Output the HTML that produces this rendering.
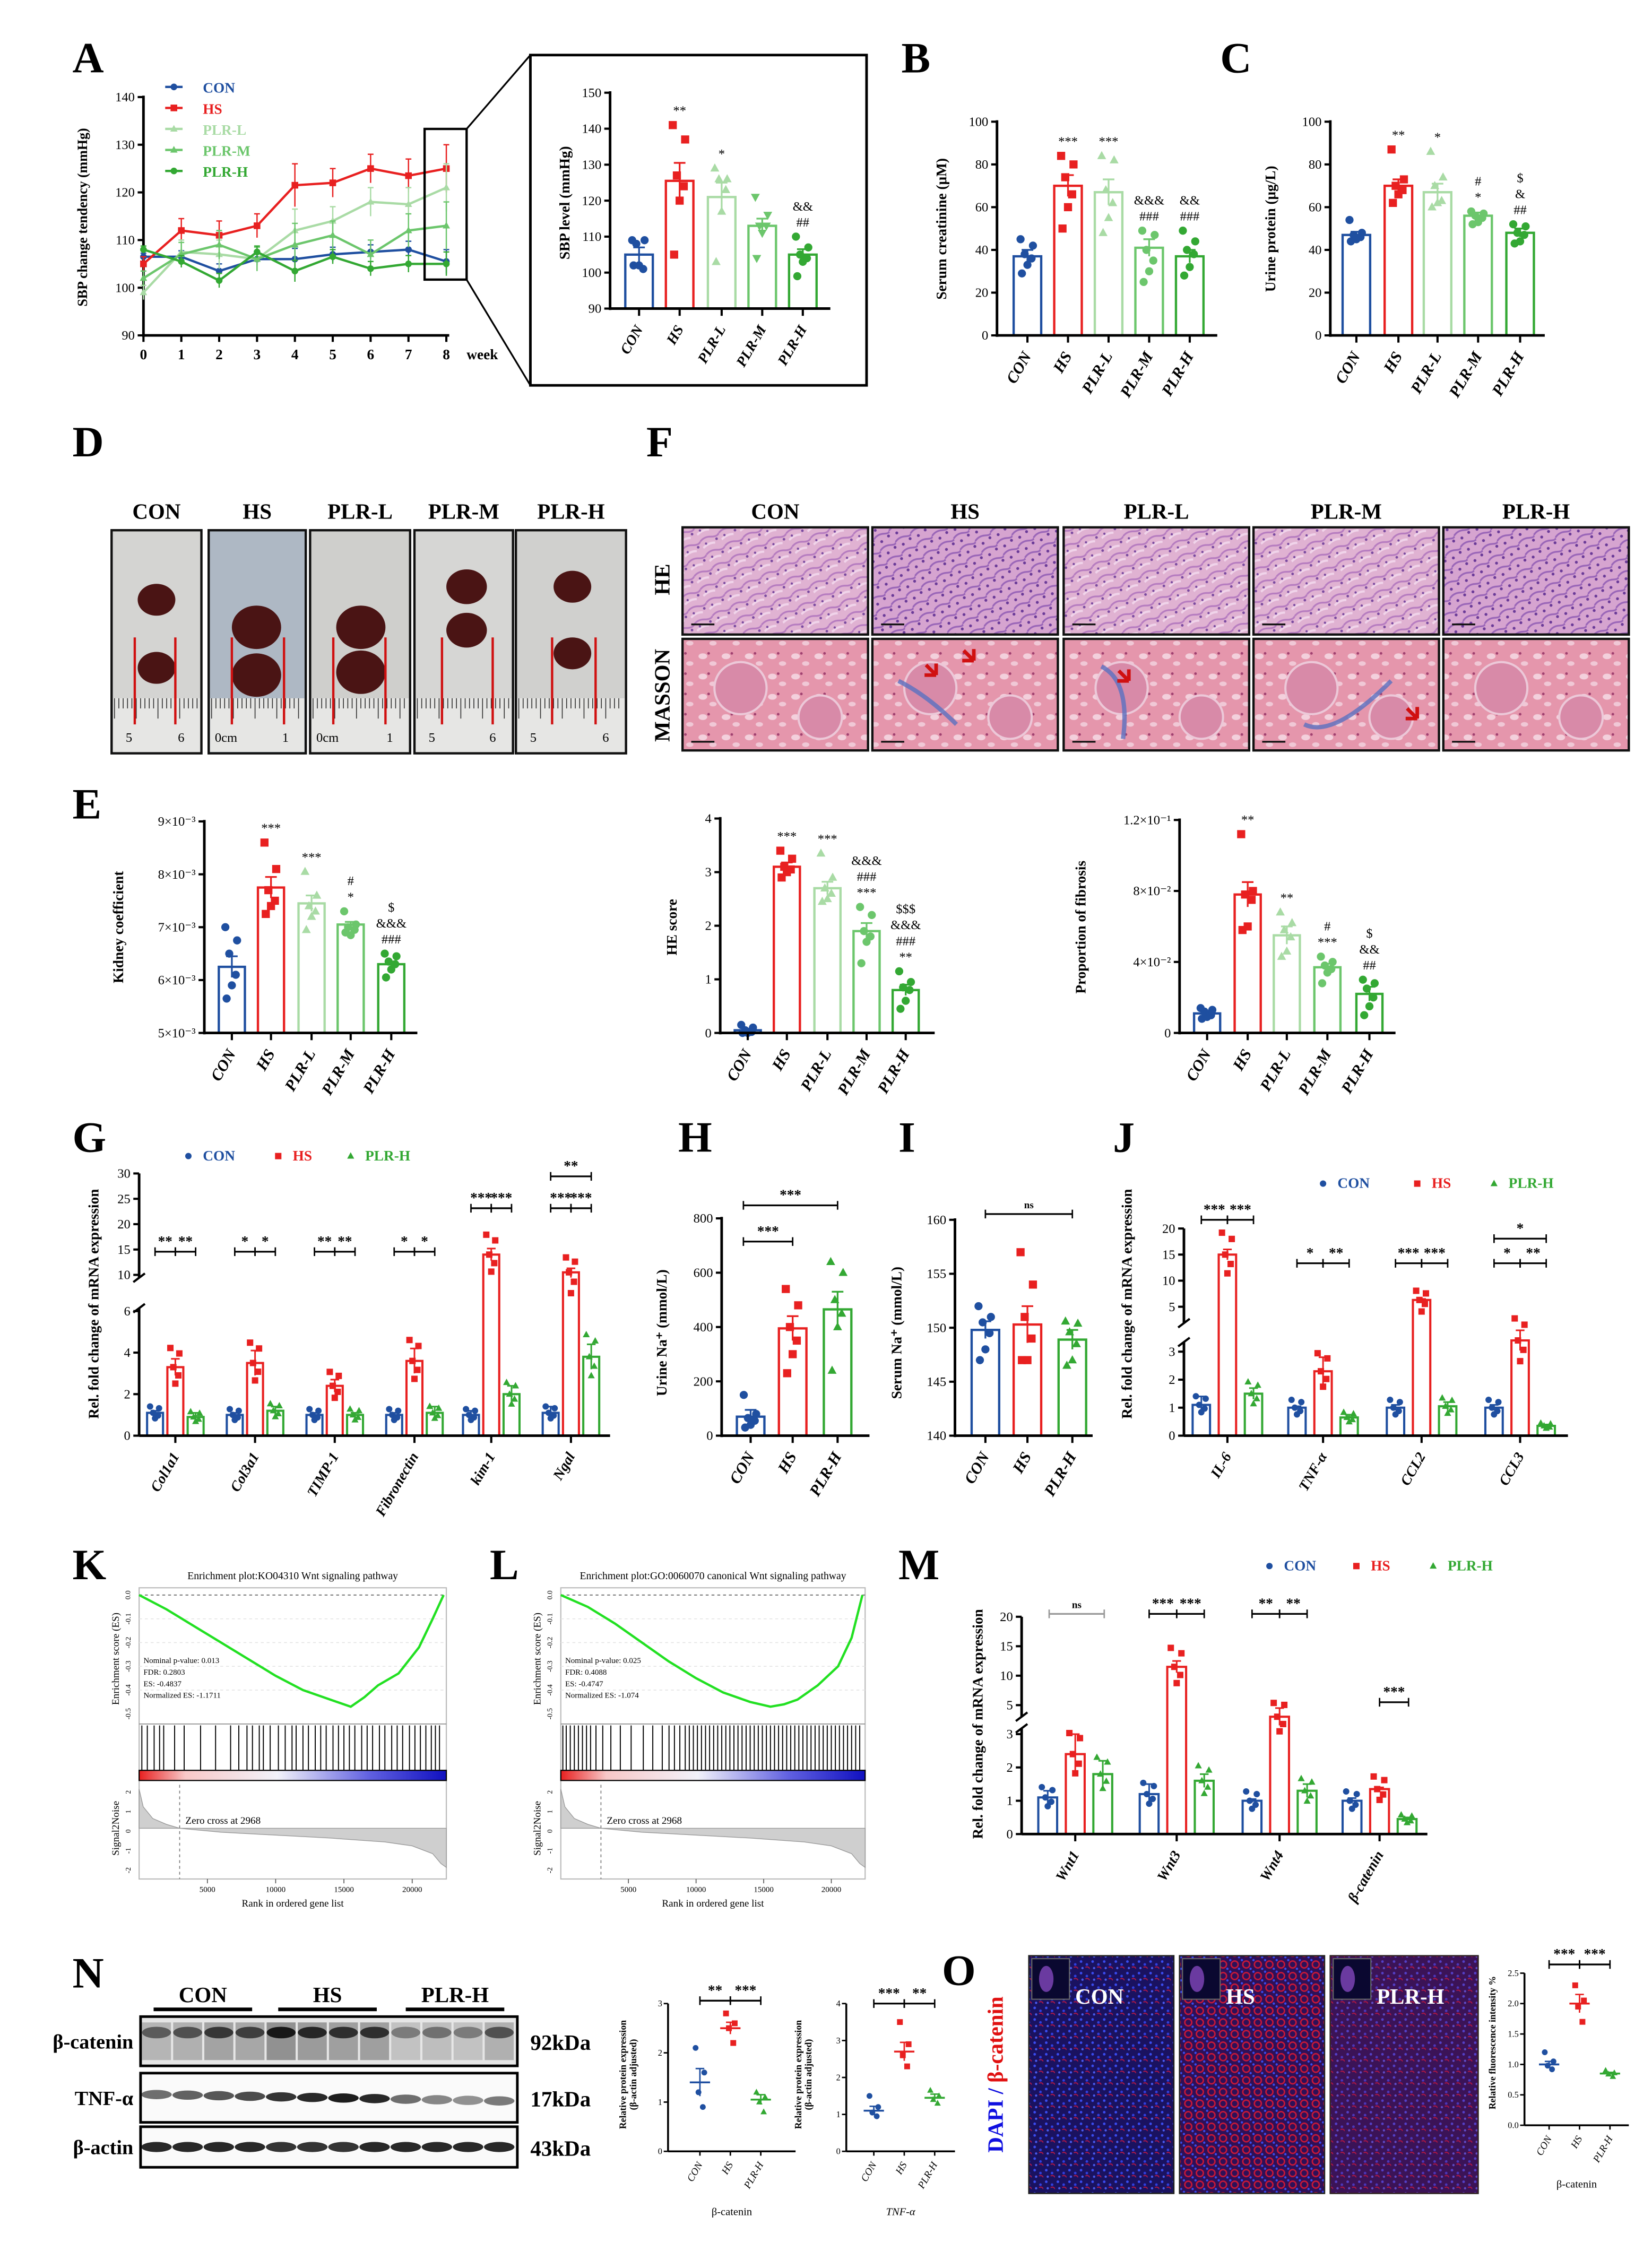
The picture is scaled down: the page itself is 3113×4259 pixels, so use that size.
<!DOCTYPE html>
<html><head><meta charset="utf-8"><style>
html,body{margin:0;padding:0;background:#fff;}
svg{display:block;}
text{font-family:"Liberation Serif",serif;}
</style></head><body>
<svg id="fig" xmlns="http://www.w3.org/2000/svg" width="3113" height="4259" viewBox="0 0 1140 1560" preserveAspectRatio="none">
<defs>
<pattern id="heP" width="14" height="10" patternUnits="userSpaceOnUse" patternTransform="rotate(-25)">
<rect width="14" height="10" fill="#e0b2d2"/>
<path d="M0 3 Q4 1 8 3 T14 3" stroke="#b67cc0" stroke-width="1.2" fill="none"/>
<path d="M0 8 Q5 6 9 8" stroke="#f0d4ea" stroke-width="1.5" fill="none"/>
<circle cx="11" cy="6" r="0.9" fill="#7a4aa0"/><circle cx="3" cy="6" r="0.8" fill="#7a4aa0"/>
</pattern>
<pattern id="heP2" width="12" height="9" patternUnits="userSpaceOnUse" patternTransform="rotate(-30)">
<rect width="12" height="9" fill="#d6a4d0"/>
<path d="M0 3 Q4 1 8 3 T12 3" stroke="#9a66b8" stroke-width="1.2" fill="none"/>
<circle cx="10" cy="6" r="1" fill="#6a3a98"/><circle cx="4" cy="7" r="1" fill="#6a3a98"/>
</pattern>
<pattern id="msP" width="16" height="14" patternUnits="userSpaceOnUse">
<rect width="16" height="14" fill="#e596ac"/>
<ellipse cx="5" cy="5" rx="3" ry="2" fill="#f3d0dc"/>
<ellipse cx="12" cy="10" rx="2.5" ry="1.6" fill="#f0c8d6"/>
<circle cx="9" cy="3" r="0.9" fill="#a04070"/>
</pattern>
<pattern id="ifB" width="8" height="8" patternUnits="userSpaceOnUse">
<rect width="8" height="8" fill="#1a1260"/>
<circle cx="2" cy="2" r="0.9" fill="#3a4cf0"/><circle cx="6" cy="4" r="0.9" fill="#3040e0"/><circle cx="3" cy="6.5" r="0.8" fill="#4a5cf0"/>
<path d="M5 6 q2 -1 3 1" fill="none" stroke="#b01848" stroke-width="0.7"/>
</pattern>
<pattern id="ifR" width="8" height="8" patternUnits="userSpaceOnUse">
<rect width="8" height="8" fill="#2e1058"/>
<circle cx="4" cy="4" r="2.4" fill="none" stroke="#c81838" stroke-width="1"/>
<circle cx="1" cy="1" r="0.8" fill="#3a4cf0"/><circle cx="7" cy="7" r="0.8" fill="#3a4cf0"/>
</pattern>
<linearGradient id="rankG" x1="0" x2="1" y1="0" y2="0">
<stop offset="0" stop-color="#e82020"/><stop offset="0.15" stop-color="#f8c8c8"/><stop offset="0.45" stop-color="#f2f2fa"/><stop offset="0.75" stop-color="#6060e0"/><stop offset="1" stop-color="#1010c0"/>
</linearGradient>
</defs>
</svg>
<script>
// ====== DATA ======
const groups5 = ['CON','HS','PLR-L','PLR-M','PLR-H'];
const groups3 = ['CON','HS','PLR-H'];
// A line chart
const weeks = [0,1,2,3,4,5,6,7,8];
const sbpCON = [106.5,106.5,103.5,106,106,107,107.5,108,105.5];
const sbpHS = [105,112,111,113,121.5,122,125,123.5,125];
const sbpPLRL = [99,107.5,107,106,112,114,118,117.5,121];
const sbpPLRM = [102,107,109,106,109,111,107,112,113];
const sbpPLRH = [108,105.5,101.5,107.5,103.5,106.5,104,105,105];
const sbpErr = [1.5,2.5,3,2.5,4.5,3,3,3.5,5];
// A inset
const sbpMeans = [105,125.5,121,113,105];
const sbpSem = [2,5,4,2,1.5];
const sbpPts = [[109,109,108,101,102,102],[141,137,127,124,120,105],[129,126,126,123,117,103],[121,116,113,113,111,104],[110,107,105,104,103,99]];
// B
const crMeans = [37,70,67,41,37];
const crSem = [3,5,6,4,3];
const crPts = [[45,42,38,36,33,29],[84,80,74,66,60,50],[84,82,68,62,55,48],[49,47,40,35,30,25],[49,44,40,38,32,28]];
// C
const upMeans = [47,70,67,56,48];
const upSem = [1.5,3,4,1.5,2];
const upPts = [[54,48,47,46,45,44],[87,73,70,68,66,62],[86,74,70,63,62,60],[58,57,56,55,53,52],[52,51,48,47,44,43]];
// E1 (x10^-3)
const kcMeans = [6.25,7.75,7.45,7.05,6.3];
const kcSem = [0.2,0.2,0.15,0.05,0.05];
const kcPts = [[7.0,6.75,6.5,6.1,5.9,5.65],[8.6,8.1,7.7,7.5,7.4,7.25],[8.05,7.6,7.4,7.3,7.2,6.95],[7.3,7.05,7.0,6.95,6.85,6.9],[6.5,6.45,6.35,6.3,6.2,6.05]];
// E2
const heMeans = [0.05,3.1,2.7,1.9,0.8];
const heSem = [0.03,0.08,0.12,0.15,0.1];
const hePts = [[0.15,0.1,0.05,0.02,0,0],[3.4,3.25,3.1,3.05,3.0,2.9],[3.35,2.9,2.7,2.6,2.5,2.45],[2.35,2.2,1.9,1.8,1.7,1.3],[1.15,0.95,0.85,0.8,0.6,0.45]];
// E3 (x10^-2)
const fbMeans = [1.1,7.8,5.5,3.7,2.2];
const fbSem = [0.1,0.7,0.5,0.2,0.4];
const fbPts = [[1.4,1.3,1.2,1.0,0.9,0.8],[11.2,8.0,7.8,7.5,6.0,5.8],[6.8,6.2,5.8,5.4,4.6,4.3],[4.3,4.0,3.8,3.6,3.4,2.8],[3.0,2.8,2.5,2.0,1.5,1.0]];
// G
const gGenes = ['Col1a1','Col3a1','TIMP-1','Fibronectin','kim-1','Ngal'];
const gCON = [1.1,1.0,1.0,1.0,1.0,1.1];
const gHS = [3.3,3.5,2.4,3.6,14,10.5];
const gPLR = [0.9,1.2,1.0,1.1,2.0,3.8];
const gSemCON = [0.1,0.1,0.1,0.1,0.2,0.3];
const gSemHS = [0.4,0.6,0.3,0.6,1.2,0.8];
const gSemPLR = [0.2,0.2,0.1,0.3,0.4,0.6];
// H, I
const uNaMeans = [70,395,465];
const uNaSem = [25,45,65];
const uNaPts = [[150,80,65,55,40,30],[540,480,400,350,300,230],[640,600,500,450,400,240]];
const sNaMeans = [149.8,150.3,148.9];
const sNaSem = [0.8,1.7,0.9];
const sNaPts = [[152,151,150.5,149.5,148,147],[157,154,151,149,147,147],[150.6,150.4,149.6,148.5,147,146.5]];
// J
const jGenes = ['IL-6','TNF-α','CCL2','CCL3'];
const jCON = [1.1,1.0,1.0,1.0];
const jHS = [15,2.3,6.3,3.5];
const jPLR = [1.5,0.65,1.05,0.35];
const jSemCON = [0.3,0.05,0.1,0.1];
const jSemHS = [1.0,0.5,0.2,0.45];
const jSemPLR = [0.2,0.1,0.15,0.05];
// M
const mGenes = ['Wnt1','Wnt3','Wnt4','β-catenin'];
const mCON = [1.1,1.2,1.0,1.0];
const mHS = [2.4,11.5,4.2,1.35];
const mPLR = [1.8,1.6,1.3,0.45];
const mSemCON = [0.2,0.3,0.05,0.08];
const mSemHS = [0.6,1.0,0.6,0.05];
const mSemPLR = [0.4,0.2,0.2,0.05];
// N, O scatter
const nBcPts = [[2.1,1.6,1.2,0.9],[2.8,2.6,2.5,2.2],[1.2,1.1,1.0,0.8]];
const nBcMean = [1.4,2.5,1.05];
const nBcSem = [0.28,0.12,0.1];
const nTnfPts = [[1.5,1.2,1.05,0.95],[3.5,2.9,2.6,2.3],[1.65,1.5,1.4,1.3]];
const nTnfMean = [1.1,2.7,1.45];
const nTnfSem = [0.12,0.25,0.1];
const oPts = [[1.2,1.05,0.98,0.92],[2.3,2.05,1.95,1.7],[0.9,0.86,0.84,0.8]];
const oMean = [1.0,2.0,0.85];
const oSem = [0.05,0.15,0.02];
// GSEA
const esRanks = [0,2000,4000,6000,8000,10000,12000,14000,15500,16500,17500,19000,20500,21500,22300];
const esK = [0,-0.06,-0.13,-0.2,-0.27,-0.34,-0.4,-0.44,-0.47,-0.43,-0.38,-0.33,-0.22,-0.1,0];
const esL = [0,-0.05,-0.12,-0.2,-0.28,-0.35,-0.41,-0.45,-0.47,-0.46,-0.44,-0.38,-0.3,-0.18,0];
const hitsK = [200,600,1100,1500,1800,2600,3300,4500,5600,6700,7300,7900,8300,8800,9100,9600,10200,10700,11200,11500,12000,12400,12900,13300,13700,14200,14600,15000,15400,15800,16300,16700,17100,17600,18000,18500,18900,19300,19800,20200,20600,21000,21400,21700,22000];
const hitsL = [150,400,700,1000,1300,1600,1900,2200,2600,3100,3700,4400,5200,6100,6800,7500,8000,8400,8800,9200,9500,9800,10100,10400,10700,11000,11300,11600,11900,12200,12500,12800,13100,13400,13700,14000,14300,14600,14900,15200,15500,15800,16100,16400,16700,17000,17300,17600,17900,18200,18500,18800,19100,19400,19700,20000,20300,20600,20900,21200,21500,21800,22100];
const metricRanks = [0,300,1000,2000,2968,6000,10000,14000,18000,20000,21500,22100,22500];
const metricVals = [2,1.1,0.5,0.2,0,-0.2,-0.35,-0.5,-0.7,-0.9,-1.3,-1.8,-2];

// ====== HELPERS ======
const NS='http://www.w3.org/2000/svg';
const svg=document.getElementById('fig');
const C={CON:'#1f4fa0',HS:'#e82020','PLR-L':'#a9dba5','PLR-M':'#6cc66c','PLR-H':'#33a833'};
function mk(tag,attrs,name,parent){
  const e=document.createElementNS(NS,tag);
  for(const k in attrs) e.setAttribute(k,attrs[k]);
  
  
  (parent||svg).appendChild(e);return e;
}
function T(x,y,s,o,name){
  o=o||{};
  const a={x:x,y:y,'font-size':o.fs||9,fill:o.fill||'#000','text-anchor':o.anchor||'middle'};
  if(o.bold)a['font-weight']='bold';
  if(o.italic)a['font-style']='italic';
  if(o.rot!==undefined)a.transform='rotate('+o.rot+' '+x+' '+y+')';
  if(o.family)a['font-family']=o.family;
  const e=mk('text',a,name||'label');e.textContent=s;return e;
}
function L(x1,y1,x2,y2,st,w,name,dash){const a={x1:x1,y1:y1,x2:x2,y2:y2,stroke:st||'#000','stroke-width':w||1};if(dash)a['stroke-dasharray']=dash;return mk('line',a,name||'line');}
function lin(d0,d1,r0,r1){return v=>r0+(v-d0)*(r1-r0)/(d1-d0);}
function pw(pairs){return v=>{for(let i=0;i<pairs.length-1;i++){const a=pairs[i],b=pairs[i+1];if(v<=b[0]||i==pairs.length-2)return a[1]+(v-a[0])*(b[1]-a[1])/(b[0]-a[0]);}};}
function marker(shape,x,y,r,col,name){
  if(shape==='s')return mk('rect',{x:x-r,y:y-r,width:2*r,height:2*r,fill:col},name);
  if(shape==='t')return mk('polygon',{points:(x)+','+(y-r*1.2)+' '+(x-r*1.1)+','+(y+r*0.8)+' '+(x+r*1.1)+','+(y+r*0.8),fill:col},name);
  if(shape==='v')return mk('polygon',{points:(x)+','+(y+r*1.2)+' '+(x-r*1.1)+','+(y-r*0.8)+' '+(x+r*1.1)+','+(y-r*0.8),fill:col},name);
  return mk('circle',{cx:x,cy:y,r:r,fill:col},name);
}
function letter(x,y,s){T(x,y,s,{fs:30,bold:true,anchor:'start'},'panel-letter-'+s);}
function yAxis(ax,y,ticks,labels,fs,name){
  L(ax,y(ticks[ticks.length-1])-1,ax,y(ticks[0])+1,'#000',1.8,name+'-y-axis');
  ticks.forEach((t,i)=>{L(ax-4,y(t),ax,y(t),'#000',1.5,name+'-y-tick');T(ax-6,y(t)+3,labels[i],{fs:fs||9,anchor:'end'},name+'-y-tick-label');});
}
const jit=[-5,4,-2,3,0,-4,5];
function barChart(cfg){
  const y=cfg.y,bw=cfg.bw,base=y(cfg.ticks[0]);
  cfg.means.forEach((m,i)=>{
    const x=cfg.xs[i],col=cfg.cols[i];
    mk('rect',{x:x-bw/2,y:y(m),width:bw,height:base-y(m),fill:'none',stroke:col,'stroke-width':1.6},cfg.name+'-bar-'+cfg.cats[i]);
    let top=y(m+cfg.sems[i]);
    (cfg.pts[i]||[]).forEach((p,j)=>{const py=y(p);top=Math.min(top,py);marker(cfg.shapes[i],x+jit[j%7]*bw/20,py,cfg.mr||2.8,col,cfg.name+'-point');});
    L(x,y(m-cfg.sems[i]),x,y(m+cfg.sems[i]),col,1.2,cfg.name+'-error-bar');
    L(x-4,y(m+cfg.sems[i]),x+4,y(m+cfg.sems[i]),col,1.2,cfg.name+'-error-cap');
    if(cfg.stars&&cfg.stars[i]){cfg.stars[i].split('|').forEach((s,k)=>{T(x,top-7-k*11,s,{fs:9},cfg.name+'-significance');});}
    L(x,base,x,base+5,'#000',1.5,cfg.name+'-x-tick');
    T(x+3,base+14,cfg.cats[i],{fs:cfg.cfs||11,bold:true,italic:true,anchor:'end',rot:-60},cfg.name+'-x-label');
  });
  L(cfg.ax,base,cfg.xe,base,'#000',1.8,cfg.name+'-x-axis');
  yAxis(cfg.ax,y,cfg.ticks,cfg.tickLabels,cfg.tfs,cfg.name);
  T(cfg.ylx,cfg.yly,cfg.ylabel,{fs:cfg.ylfs||10,bold:true,rot:-90},cfg.name+'-y-axis-title');
}
function groupedBars(cfg){
  const y=cfg.y,base=y(0),bw=cfg.bw,sets=[cfg.con,cfg.hs,cfg.plr],sems=[cfg.sc,cfg.sh,cfg.sp],cols=[C.CON,C.HS,C['PLR-H']],shapes=['c','s','t'];
  cfg.genes.forEach((g,gi)=>{
    for(let k=0;k<3;k++){
      const x=cfg.cx[gi]+(k-1)*cfg.sp3,m=sets[k][gi],s=sems[k][gi];
      mk('rect',{x:x-bw/2,y:y(m),width:bw,height:base-y(m),fill:'none',stroke:cols[k],'stroke-width':1.5},cfg.name+'-bar-'+g);
      [-0.35,0.25,0,-0.15,0.3].forEach((d,j)=>{marker(shapes[k],x+jit[j]*bw/16,y(m*(1+d*(j%2?1:-1)*0.8)),2.2,cols[k],cfg.name+'-point');});
      L(x,y(Math.max(0,m-s)),x,y(m+s),cols[k],1.1,cfg.name+'-error-bar');
      L(x-3,y(m+s),x+3,y(m+s),cols[k],1.1,cfg.name+'-error-cap');
    }
    L(cfg.cx[gi],base,cfg.cx[gi],base+5,'#000',1.5,cfg.name+'-x-tick');
    T(cfg.cx[gi]+3,base+14,g,{fs:10,bold:true,italic:true,anchor:'end',rot:-60},cfg.name+'-x-label');
  });
  L(cfg.ax,base,cfg.xe,base,'#000',1.8,cfg.name+'-x-axis');
  L(cfg.ax,y(cfg.ticks[cfg.ticks.length-1]),cfg.ax,y(cfg.brkHi)+2,'#000',1.8,cfg.name+'-y-axis-upper');
  L(cfg.ax,y(cfg.brkLo)-2,cfg.ax,base,'#000',1.8,cfg.name+'-y-axis-lower');
  L(cfg.ax-4,y(cfg.brkHi)+5,cfg.ax+4,y(cfg.brkHi)-1,'#000',1.5,cfg.name+'-axis-break');
  L(cfg.ax-4,y(cfg.brkLo)+1,cfg.ax+4,y(cfg.brkLo)-5,'#000',1.5,cfg.name+'-axis-break');
  cfg.ticks.forEach((t,i)=>{L(cfg.ax-4,y(t),cfg.ax,y(t),'#000',1.5,cfg.name+'-y-tick');T(cfg.ax-6,y(t)+3,cfg.tickLabels[i],{fs:9,anchor:'end'},cfg.name+'-y-tick-label');});
  T(cfg.ylx,cfg.yly,'Rel. fold change of mRNA expression',{fs:10,bold:true,rot:-90},cfg.name+'-y-axis-title');
  const lg=cfg.leg;
  [['CON',C.CON,'c'],['HS',C.HS,'s'],['PLR-H',C['PLR-H'],'t']].forEach((e,i)=>{marker(e[2],lg[i],cfg.legY-3,2.2,e[1],cfg.name+'-legend-marker');T(lg[i]+10,cfg.legY,e[0],{fs:10,fill:e[1],anchor:'start',bold:true},cfg.name+'-legend-entry');});
}
function bracket(x1,x2,y,lab,name,col){L(x1,y,x2,y,col||'#000',1.2,name);L(x1,y-3,x1,y+3,col||'#000',1,name+'-end');L(x2,y-3,x2,y+3,col||'#000',1,name+'-end');T((x1+x2)/2,y-4,lab,{fs:lab==='ns'?7:10,bold:true},name+'-label');}

// ====== PANEL A ======
letter(50,50,'A');
const ax=lin(0,8,99,308), ay=lin(90,140,231.5,67);
yAxis(99,ay,[90,100,110,120,130,140],['90','100','110','120','130','140'],9,'a-line');
L(99,231.5,310,231.5,'#000',1.8,'a-line-x-axis');
weeks.forEach(w=>{L(ax(w),231.5,ax(w),236,'#000',1.5,'a-x-tick');T(ax(w),248,String(w),{fs:10,bold:true},'a-x-tick-label');});
T(322,248,'week',{fs:10,bold:true,anchor:'start'},'a-x-axis-title');
T(60,150,'SBP change tendency (mmHg)',{fs:9.5,bold:true,rot:-90},'a-y-axis-title');
const lineSeries=[['CON',sbpCON,'c'],['HS',sbpHS,'s'],['PLR-L',sbpPLRL,'t'],['PLR-M',sbpPLRM,'t'],['PLR-H',sbpPLRH,'c']];
lineSeries.forEach((s,si)=>{
  const col=C[s[0]];
  mk('polyline',{points:s[1].map((v,i)=>ax(weeks[i])+','+ay(v)).join(' '),fill:'none',stroke:col,'stroke-width':1.6},'a-line-'+s[0]);
  s[1].forEach((v,i)=>{const e=sbpErr[i]*(si==0||si==4?0.5:1);L(ax(weeks[i]),ay(v-e),ax(weeks[i]),ay(v+e),col,0.9,'a-error-bar');L(ax(weeks[i])-2,ay(v+e),ax(weeks[i])+2,ay(v+e),col,0.9,'a-error-cap');marker(s[2],ax(weeks[i]),ay(v),2.3,col,'a-point');});
  const ly=60+si*14.5;
  L(114,ly,126,ly,col,1.6,'a-legend-line');marker(s[2],120,ly,2.3,col,'a-legend-marker');T(140,ly+4,s[0],{fs:10,fill:col,anchor:'start',bold:true},'a-legend-entry');
});
mk('rect',{x:293,y:89,width:29,height:104,fill:'none',stroke:'#000','stroke-width':1.6},'a-zoom-region');
L(322,89,366,38,'#000',1.2,'a-zoom-connector');L(322,193,366,266,'#000',1.2,'a-zoom-connector');
mk('rect',{x:366,y:38,width:232,height:228,fill:'none',stroke:'#000','stroke-width':1.8},'a-inset-frame');
barChart({name:'a-inset',y:lin(90,150,213,64),ticks:[90,100,110,120,130,140,150],tickLabels:['90','100','110','120','130','140','150'],
 cats:groups5,xs:[441,469,498,526,554],ax:421,xe:573,bw:19,means:sbpMeans,sems:sbpSem,pts:sbpPts,
 cols:[C.CON,C.HS,C['PLR-L'],C['PLR-M'],C['PLR-H']],shapes:['c','s','t','v','c'],stars:['','**','*','','##|&&'],
 ylabel:'SBP level (mmHg)',ylx:393,yly:140,cfs:10});

// ====== B, C ======
letter(622,50,'B');letter(842,50,'C');
barChart({name:'b',y:lin(0,100,231.5,84),ticks:[0,20,40,60,80,100],tickLabels:['0','20','40','60','80','100'],
 cats:groups5,xs:[709,737,765,793,821],ax:688,xe:840,bw:19,means:crMeans,sems:crSem,pts:crPts,
 cols:[C.CON,C.HS,C['PLR-L'],C['PLR-M'],C['PLR-H']],shapes:['c','s','t','c','c'],stars:['','***','***','###|&&&','###|&&'],
 ylabel:'Serum creatinine (μM)',ylx:653,yly:158});
barChart({name:'c',y:lin(0,100,231.5,84),ticks:[0,20,40,60,80,100],tickLabels:['0','20','40','60','80','100'],
 cats:groups5,xs:[936,965,992,1020,1049],ax:918,xe:1066,bw:19,means:upMeans,sems:upSem,pts:upPts,
 cols:[C.CON,C.HS,C['PLR-L'],C['PLR-M'],C['PLR-H']],shapes:['c','s','t','c','c'],stars:['','**','*','*|#','##|&|$'],
 ylabel:'Urine protein (μg/L)',ylx:880,yly:158});

// ====== D photos ======
letter(50,315,'D');
const phX=[77,144,214,286,356],phW=[62,67,69,68,76],phBg=['#d4d4d2','#aeb8c4','#cfcfcc','#d6d6d4','#d0d0ce'];
const kid=[[[108,414,13,11],[108,461,13,11]],[[177,433,17,15],[177,466,17,15]],[[249,433,17,15],[249,464,17,15]],[[322,405,14,12],[322,435,14,12]],[[395,405,13,11],[395,451,13,11]]];
const rl=[[93,121],[160,196],[230,266],[305,340],[381,411]];
const ruler=[['5','6'],['0cm','1'],['0cm','1'],['5','6'],['5','6']];
groups5.forEach((g,i)=>{
  T(phX[i]+phW[i]/2,358,g,{fs:15,bold:true},'d-group-label');
  mk('rect',{x:phX[i],y:366,width:phW[i],height:154,fill:phBg[i],stroke:'#111','stroke-width':1.6},'d-kidney-photo-'+g);
  mk('rect',{x:phX[i]+1,y:482,width:phW[i]-2,height:37,fill:'#e6e6e4'},'d-ruler');
  for(let t=0;t<phW[i]-4;t+=3){L(phX[i]+2+t,482,phX[i]+2+t,t%15==0?496:489,'#333',0.6,'d-ruler-tick');}
  kid[i].forEach(k=>mk('ellipse',{cx:k[0],cy:k[1],rx:k[2],ry:k[3],fill:'#4a1414'},'d-kidney'));
  rl[i].forEach(x=>L(x,440,x,500,'#d01010',1.6,'d-measure-line'));
  T(phX[i]+12,512,ruler[i][0],{fs:9},'d-ruler-number');T(phX[i]+phW[i]-14,512,ruler[i][1],{fs:9},'d-ruler-number');
});

// ====== F histology ======
letter(446,315,'F');
const hX=[471,602,734,865,996];
groups5.forEach((g,i)=>{
  T(hX[i]+64,358,g,{fs:15,bold:true},'f-column-label');
  mk('rect',{x:hX[i],y:364,width:128,height:74,fill:(i==1||i==4)?'url(#heP2)':'url(#heP)',stroke:'#111','stroke-width':1.6},'f-he-image-'+g);
  mk('rect',{x:hX[i],y:441,width:128,height:77,fill:'url(#msP)',stroke:'#111','stroke-width':1.6},'f-masson-image-'+g);
  mk('circle',{cx:hX[i]+40,cy:475,r:18,fill:'#d88aa8',stroke:'#ecc8d8','stroke-width':1.5},'f-glomerulus');
  mk('circle',{cx:hX[i]+95,cy:495,r:15,fill:'#d88aa8',stroke:'#ecc8d8','stroke-width':1.5},'f-glomerulus');
  L(hX[i]+6,431,hX[i]+22,431,'#111',1.2,'f-scale-bar');L(hX[i]+6,512,hX[i]+22,512,'#111',1.2,'f-scale-bar');
});
[[620,470,660,500],[760,460,775,510],[900,500,960,470]].forEach(p=>mk('path',{d:'M'+p[0]+' '+p[1]+' Q'+(p[0]+20)+' '+(p[1]+10)+' '+p[2]+' '+p[3],stroke:'#5a70c0','stroke-width':3,fill:'none',opacity:0.8},'f-fibrosis-blue'));
[[646,466],[672,456],[779,470],[978,496]].forEach(a=>mk('path',{d:'M'+a[0]+' '+a[1]+' l-7 -7 m7 7 l-8 0 m8 0 l0 -8',stroke:'#d01010','stroke-width':2.5,fill:'none'},'f-arrow'));
T(462,400,'HE',{fs:15,bold:true,rot:-90},'f-row-label');
T(462,480,'MASSON',{fs:15,bold:true,rot:-90},'f-row-label');

// ====== E ======
letter(50,565,'E');
barChart({name:'e-kidney',y:lin(5,9,713,567),ticks:[5,6,7,8,9],tickLabels:['5×10⁻³','6×10⁻³','7×10⁻³','8×10⁻³','9×10⁻³'],
 cats:groups5,xs:[160,187,215,242,270],ax:141,xe:288,bw:18,means:kcMeans,sems:kcSem,pts:kcPts,
 cols:[C.CON,C.HS,C['PLR-L'],C['PLR-M'],C['PLR-H']],shapes:['c','s','t','c','c'],stars:['','***','***','*|#','###|&&&|$'],
 ylabel:'Kidney coefficient',ylx:85,yly:640});
barChart({name:'e-he',y:lin(0,4,713,565),ticks:[0,1,2,3,4],tickLabels:['0','1','2','3','4'],
 cats:groups5,xs:[516,543,571,598,625],ax:497,xe:645,bw:18,means:heMeans,sems:heSem,pts:hePts,
 cols:[C.CON,C.HS,C['PLR-L'],C['PLR-M'],C['PLR-H']],shapes:['c','s','t','c','c'],stars:['','***','***','***|###|&&&','**|###|&&&|$$$'],
 ylabel:'HE score',ylx:467,yly:640});
barChart({name:'e-fibrosis',y:lin(0,12,713,566),ticks:[0,4,8,12],tickLabels:['0','4×10⁻²','8×10⁻²','1.2×10⁻¹'],
 cats:groups5,xs:[833,861,888,916,945],ax:814,xe:963,bw:18,means:fbMeans,sems:fbSem,pts:fbPts,
 cols:[C.CON,C.HS,C['PLR-L'],C['PLR-M'],C['PLR-H']],shapes:['c','s','t','c','c'],stars:['','**','**','***|#','##|&&|$'],
 ylabel:'Proportion of fibrosis',ylx:749,yly:640});

// ====== G ======
letter(50,795,'G');
const gy=pw([[0,991],[6,905],[10,880],[30,810]]);
groupedBars({name:'g',y:gy,genes:gGenes,cx:[121,176,231,286,339,394],sp3:14,bw:11,ax:96,xe:421,
 con:gCON,hs:gHS,plr:gPLR,sc:gSemCON,sh:gSemHS,sp:gSemPLR,brkLo:6,brkHi:10,
 ticks:[0,2,4,6,10,15,20,25,30],tickLabels:['0','2','4','6','10','15','20','25','30'],ylx:68,yly:900,leg:[130,192,242],legY:801});
[['**','**'],['*','*'],['**','**'],['*','*']].forEach((p,i)=>{const c=[121,176,231,286][i];bracket(c-14,c,864,p[0],'g-bracket');bracket(c,c+14,864,p[1],'g-bracket');});
[339,394].forEach(c=>{bracket(c-14,c,834,'***','g-bracket');bracket(c,c+14,834,'***','g-bracket');});
bracket(380,408,812,'**','g-bracket');

// ====== H, I ======
letter(468,795,'H');letter(620,795,'I');
barChart({name:'h',y:lin(0,800,991,841),ticks:[0,200,400,600,800],tickLabels:['0','200','400','600','800'],
 cats:groups3,xs:[518,547,578],ax:498,xe:600,bw:19,means:uNaMeans,sems:uNaSem,pts:uNaPts,
 cols:[C.CON,C.HS,C['PLR-H']],shapes:['c','s','t'],stars:null,ylabel:'Urine Na⁺ (mmol/L)',ylx:460,yly:920});
bracket(513,547,857,'***','h-bracket');bracket(513,578,832,'***','h-bracket');
barChart({name:'i',y:lin(140,160,991,842),ticks:[140,145,150,155,160],tickLabels:['140','145','150','155','160'],
 cats:groups3,xs:[680,709,740],ax:659,xe:754,bw:19,means:sNaMeans,sems:sNaSem,pts:sNaPts,
 cols:[C.CON,C.HS,C['PLR-H']],shapes:['c','s','t'],stars:null,ylabel:'Serum Na⁺ (mmol/L)',ylx:622,yly:920});
bracket(680,740,838,'ns','i-bracket');

// ====== J ======
letter(768,795,'J');
const jy=pw([[0,991],[3,933],[5,902],[20,848]]);
groupedBars({name:'j',y:jy,genes:jGenes,cx:[847,913,981,1049],sp3:18,bw:12,ax:817,xe:1082,
 con:jCON,hs:jHS,plr:jPLR,sc:jSemCON,sh:jSemHS,sp:jSemPLR,brkLo:3.3,brkHi:4.4,
 ticks:[0,1,2,3,5,10,15,20],tickLabels:['0','1','2','3','5','10','15','20'],ylx:781,yly:900,leg:[913,978,1031],legY:820});
bracket(829,847,842,'***','j-bracket');bracket(847,865,842,'***','j-bracket');
[['*','**'],['***','***'],['*','**']].forEach((p,i)=>{const c=[913,981,1049][i];bracket(c-18,c,872,p[0],'j-bracket');bracket(c,c+18,872,p[1],'j-bracket');});
bracket(1031,1067,855,'*','j-bracket');

// ====== K, L GSEA ======
function gsea(x0,x1,es,hits,title,stats,nm){
  const rx=lin(0,22500,x0,x1),ey=lin(0,-0.5,1101,1183),my=lin(0,2,1262,1235);
  T((x0+x1)/2,1090,title,{fs:7.2,family:'"Liberation Sans",sans-serif'},nm+'-title');
  mk('rect',{x:x0,y:1096,width:x1-x0,height:201,fill:'none',stroke:'#bbb','stroke-width':0.8},nm+'-frame');
  L(x0,1101,x1,1101,'#777',0.7,nm+'-es-zero-line','2,2');
  [-0.1,-0.2,-0.3,-0.4].forEach(v=>L(x0,ey(v),x1,ey(v),'#e4e4e4',0.6,nm+'-grid','2,2'));
  mk('polyline',{points:es.map((v,i)=>rx(esRanks[i])+','+ey(v)).join(' '),fill:'none',stroke:'#22e022','stroke-width':1.6},nm+'-es-curve');
  L(x0,1190,x1,1190,'#888',0.6,nm+'-divider');
  hits.forEach(h=>L(rx(h),1191,rx(h),1222,'#000',0.7,nm+'-hit'));
  mk('rect',{x:x0,y:1222,width:x1-x0,height:7,fill:'url(#rankG)',stroke:'#000','stroke-width':0.8},nm+'-rank-colorbar');
  const mp='M'+rx(0)+' '+my(0)+' '+metricVals.map((v,i)=>'L'+rx(metricRanks[i])+' '+my(v)).join(' ')+' L'+rx(22500)+' '+my(0)+' Z';
  mk('path',{d:mp,fill:'#cfcfcf',stroke:'#999','stroke-width':0.5},nm+'-metric-area');
  L(rx(2968),1232,rx(2968),1297,'#777',0.6,nm+'-zero-cross','2,2');
  T(rx(2968)+4,1259,'Zero cross at 2968',{fs:7,anchor:'start',family:'"Liberation Sans",sans-serif'},nm+'-zero-label');
  stats.forEach((s,i)=>T(x0+3,1148+i*8,s,{fs:5.5,anchor:'start',family:'"Liberation Sans",sans-serif'},nm+'-stat'));
  [5000,10000,15000,20000].forEach(t=>{L(rx(t),1297,rx(t),1300,'#555',0.6,nm+'-x-tick');T(rx(t),1306,String(t),{fs:5.5,family:'"Liberation Sans",sans-serif'},nm+'-x-tick-label');});
  T((x0+x1)/2,1316,'Rank in ordered gene list',{fs:7,family:'"Liberation Sans",sans-serif'},nm+'-x-axis-title');
  T(x0-14,1145,'Enrichment score (ES)',{fs:7,rot:-90,family:'"Liberation Sans",sans-serif'},nm+'-y-axis-title');
  T(x0-14,1262,'Signal2Noise',{fs:7,rot:-90,family:'"Liberation Sans",sans-serif'},nm+'-y2-axis-title');
  [0,-0.1,-0.2,-0.3,-0.4,-0.5].forEach(v=>T(x0-6,ey(v),v.toFixed(1),{fs:5,rot:-90,family:'"Liberation Sans",sans-serif'},nm+'-y-tick-label'));
  [2,1,0,-1,-2].forEach(v=>T(x0-6,my(v)+2,String(v),{fs:5,rot:-90,family:'"Liberation Sans",sans-serif'},nm+'-y2-tick-label'));
}
letter(50,1090,'K');letter(338,1090,'L');
gsea(96,308,esK,hitsK,'Enrichment plot:KO04310 Wnt signaling pathway',['Nominal p-value: 0.013','FDR: 0.2803','ES: -0.4837','Normalized ES: -1.1711'],'k');
gsea(387,597,esL,hitsL,'Enrichment plot:GO:0060070 canonical Wnt signaling pathway',['Nominal p-value: 0.025','FDR: 0.4088','ES: -0.4747','Normalized ES: -1.074'],'l');

// ====== M ======
letter(620,1090,'M');
const my2=pw([[0,1266],[3,1197],[5,1177],[20,1116]]);
groupedBars({name:'m',y:my2,genes:mGenes,cx:[742,812,883,952],sp3:19,bw:13,ax:705,xe:985,
 con:mCON,hs:mHS,plr:mPLR,sc:mSemCON,sh:mSemHS,sp:mSemPLR,brkLo:3.2,brkHi:4.4,
 ticks:[0,1,2,3,5,10,15,20],tickLabels:['0','1','2','3','5','10','15','20'],ylx:678,yly:1190,leg:[876,936,989],legY:1084});
bracket(724,762,1114,'ns','m-bracket','#999');
bracket(793,812,1114,'***','m-bracket');bracket(812,831,1114,'***','m-bracket');
bracket(864,883,1114,'**','m-bracket');bracket(883,902,1114,'**','m-bracket');
bracket(952,972,1175,'***','m-bracket');

// ====== N blots ======
letter(50,1372,'N');
[['CON',140],['HS',226],['PLR-H',314]].forEach(g=>{T(g[1],1382,g[0],{fs:15,bold:true},'n-lane-group-label');L(g[1]-34,1387,g[1]+34,1387,'#000',2.5,'n-lane-group-bar');});
const blotRows=[['β-catenin',1392,34,'92kDa',[0.55,0.6,0.75,0.7,0.95,0.85,0.8,0.8,0.4,0.45,0.4,0.6]],['TNF-α',1431,34,'17kDa',[0.6,0.65,0.7,0.75,0.85,0.9,0.95,0.9,0.6,0.5,0.45,0.55]],['β-actin',1468,28,'43kDa',[0.9,0.9,0.9,0.9,0.85,0.85,0.85,0.9,0.9,0.9,0.9,0.9]]];
blotRows.forEach(r=>{
  mk('rect',{x:97,y:r[1],width:260,height:r[2],fill:r[0]==='β-catenin'?'#e6e6e6':'#fafafa',stroke:'#000','stroke-width':1.8},'n-blot-'+r[0]);
  r[4].forEach((a,i)=>{const cx=108+i*21.5,cy=r[1]+r[2]/2;
    if(r[0]==='β-catenin'){mk('rect',{x:cx-10,y:r[1]+4,width:20,height:r[2]-8,fill:'#444',opacity:a*0.55},'n-band');mk('ellipse',{cx:cx,cy:r[1]+11,rx:10,ry:4,fill:'#111',opacity:a},'n-band');}
    else mk('ellipse',{cx:cx,cy:cy+(r[0]==='TNF-α'?(i-5.5)*0.4:0),rx:10.5,ry:r[0]==='β-actin'?3.5:3.2,fill:'#111',opacity:a},'n-band');});
  T(92,r[1]+r[2]/2+5,r[0],{fs:14,bold:true,anchor:'end'},'n-row-label');
  T(366,r[1]+r[2]/2+6,r[3],{fs:15,bold:true,anchor:'start'},'n-kda-label');
});
function scatter(cfg){
  const y=cfg.y,base=y(cfg.ticks[0]),cols=[C.CON,C.HS,C['PLR-H']],sh=['c','s','t'];
  cfg.pts.forEach((ps,i)=>{const x=cfg.xs[i];
    ps.forEach((p,j)=>marker(sh[i],x+[-3,3,-1,2][j],y(p),2,cols[i],cfg.name+'-point'));
    L(x-7,y(cfg.mean[i]),x+7,y(cfg.mean[i]),cols[i],1.3,cfg.name+'-mean-line');
    L(x,y(cfg.mean[i]-cfg.sem[i]),x,y(cfg.mean[i]+cfg.sem[i]),cols[i],1,cfg.name+'-error-bar');
    L(x-3,y(cfg.mean[i]+cfg.sem[i]),x+3,y(cfg.mean[i]+cfg.sem[i]),cols[i],1,cfg.name+'-error-cap');
    L(x,base,x,base+3,'#000',1,cfg.name+'-x-tick');
    T(x+2,base+9,groups3[i],{fs:7,italic:true,anchor:'end',rot:-60},cfg.name+'-x-label');
  });
  L(cfg.ax,base,cfg.xe,base,'#000',1.3,cfg.name+'-x-axis');
  L(cfg.ax,y(cfg.ticks[cfg.ticks.length-1]),cfg.ax,base,'#000',1.3,cfg.name+'-y-axis');
  cfg.ticks.forEach((t,i)=>{L(cfg.ax-3,y(t),cfg.ax,y(t),'#000',1,cfg.name+'-y-tick');T(cfg.ax-4,y(t)+2,cfg.tl[i],{fs:6,anchor:'end'},cfg.name+'-y-tick-label');});
  T(cfg.ylx,cfg.yly,cfg.ylabel,{fs:6.5,bold:true,rot:-90},cfg.name+'-y-axis-title');
  if(cfg.yl2)T(cfg.ylx+7,cfg.yly,cfg.yl2,{fs:6.5,bold:true,rot:-90},cfg.name+'-y-axis-title-2');
  T((cfg.ax+cfg.xe)/2,cfg.capY,cfg.cap,{fs:7.5,italic:cfg.capIt},cfg.name+'-caption');
}
scatter({name:'n-bcat',y:lin(0,3,1485,1383),ticks:[0,1,2,3],tl:['0','1','2','3'],xs:[483,504,525],ax:461,xe:549,pts:nBcPts,mean:nBcMean,sem:nBcSem,ylabel:'Relative protein expression',yl2:'(β-actin adjusted)',ylx:432,yly:1432,cap:'β-catenin',capY:1529});
bracket(483,504,1381,'**','n-bracket');bracket(504,525,1381,'***','n-bracket');
scatter({name:'n-tnf',y:lin(0,4,1485,1383),ticks:[0,1,2,3,4],tl:['0','1','2','3','4'],xs:[603,624,645],ax:584,xe:659,pts:nTnfPts,mean:nTnfMean,sem:nTnfSem,ylabel:'Relative protein expression',yl2:'(β-actin adjusted)',ylx:553,yly:1432,cap:'TNF-α',capY:1529,capIt:true});
bracket(603,624,1383,'***','n-bracket');bracket(624,645,1383,'**','n-bracket');

// ====== O ======
letter(650,1370,'O');
[['CON','url(#ifB)',710],['HS','url(#ifR)',814],['PLR-H','url(#ifB)',918]].forEach((g,i)=>{
  mk('rect',{x:g[2],y:1350,width:i==2?102:100,height:164,fill:g[1],stroke:'#222','stroke-width':1},'o-if-image-'+g[0]);
  if(i==2)mk('rect',{x:g[2],y:1350,width:102,height:164,fill:'#b01838',opacity:0.22},'o-if-overlay');
  mk('rect',{x:g[2]+2,y:1352,width:26,height:28,fill:'#0a0830',stroke:'#666','stroke-width':0.8},'o-inset-thumbnail');
  mk('ellipse',{cx:g[2]+12,cy:1366,rx:5,ry:9,fill:'#6a3aa0'},'o-thumbnail-kidney');
  T(g[2]+32,1383,g[0],{fs:15,bold:true,fill:'#fff',anchor:'start'},'o-image-label');
});
const dl=mk('text',{x:692,y:1432,'font-size':15,'font-weight':'bold',transform:'rotate(-90 692 1432)','text-anchor':'middle'},'o-stain-label');
const t1=mk('tspan',{fill:'#1010e0'},'o-dapi-label',dl);t1.textContent='DAPI / ';
const t2=mk('tspan',{fill:'#e01010'},'o-bcatenin-label',dl);t2.textContent='β-catenin';
scatter({name:'o-chart',y:lin(0,2.5,1467,1362),ticks:[0,0.5,1,1.5,2,2.5],tl:['0.0','0.5','1.0','1.5','2.0','2.5'],xs:[1069,1090,1111],ax:1052,xe:1124,pts:oPts,mean:oMean,sem:oSem,ylabel:'Relative fluorescence intensity %',ylx:1032,yly:1410,cap:'β-catenin',capY:1510});
bracket(1069,1090,1356,'***','o-bracket');bracket(1090,1111,1356,'***','o-bracket');
</script>
</body></html>
